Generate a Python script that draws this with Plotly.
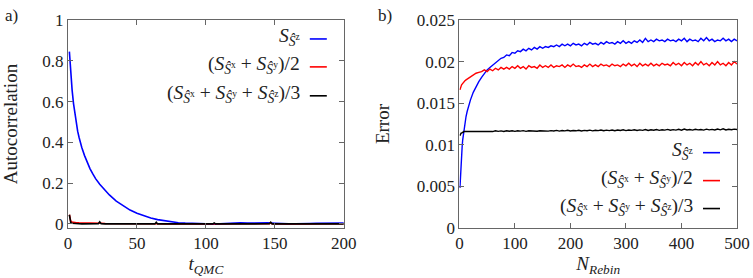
import plotly.graph_objects as go

# ---------------- Panel a) autocorrelation ----------------
t_sz = [1, 2, 3, 4, 5, 6, 7, 8, 9, 10, 12, 14, 16, 18, 20, 23, 26, 30, 35, 40,
        45, 50, 55, 60, 65, 70, 75, 80, 85, 90, 95, 100, 105, 110, 115, 120,
        125, 130, 135, 140, 145, 150, 155, 160, 165, 170, 175, 180, 185, 190,
        195, 200]
ac_sz = [0.845, 0.74, 0.655, 0.59, 0.535, 0.49, 0.455, 0.425, 0.398, 0.375,
         0.335, 0.30, 0.27, 0.245, 0.222, 0.195, 0.17, 0.142, 0.112, 0.088,
         0.068, 0.052, 0.039, 0.029, 0.021, 0.015, 0.010, 0.006, 0.004, 0.002,
         0.000, -0.002, -0.001, 0.000, 0.002, 0.004, 0.005, 0.004, 0.005, 0.004,
         0.005, 0.003, 0.001, 0.000, 0.001, 0.000, 0.002, 0.003, 0.004, 0.003,
         0.004, 0.004]

t_small = [1, 2, 3, 4, 5, 6, 8, 10, 13, 16, 19, 22, 23, 24, 27, 30, 35, 40, 45,
           50, 55, 60, 63, 64, 65, 70, 75, 80, 85, 90, 95, 100, 105, 106, 107,
           110, 115, 120, 125, 130, 135, 140, 145, 146, 147, 148, 150, 155, 160,
           165, 170, 175, 180, 185, 190, 195, 200]
ac_sxy = [0.045, 0.014, 0.009, 0.007, 0.006, 0.006, 0.005, 0.005, 0.004, 0.004,
          0.003, 0.003, 0.006, 0.003, 0.002, 0.002, 0.002, 0.001, 0.002, 0.001,
          0.001, 0.001, 0.001, 0.004, 0.001, 0.000, 0.001, 0.000, 0.001, 0.000,
          0.000, 0.000, 0.001, 0.003, 0.001, 0.000, 0.001, 0.000, 0.000, 0.001,
          0.000, 0.001, 0.000, 0.001, 0.004, 0.001, 0.000, 0.001, 0.000, 0.000,
          0.001, 0.000, 0.000, 0.001, 0.000, 0.000, 0.001]
ac_sxyz = [0.045, 0.006, 0.003, 0.002, 0.001, 0.001, 0.001, 0.000, 0.001, 0.000,
           0.001, 0.001, 0.010, 0.001, 0.000, 0.001, 0.000, 0.001, 0.000, 0.000,
           0.001, 0.000, 0.000, 0.008, 0.000, 0.000, 0.001, 0.000, 0.000, 0.001,
           0.000, 0.000, 0.000, 0.005, 0.000, 0.001, 0.000, 0.000, 0.001, 0.000,
           0.000, 0.001, 0.000, 0.001, 0.008, 0.000, 0.000, 0.001, 0.000, 0.000,
           0.001, 0.000, 0.000, 0.000, 0.001, 0.000, 0.000]

# ---------------- Panel b) error vs rebinning ----------------
n_rebin = [1, 2, 3, 4, 5, 6, 7, 8, 10, 12, 14, 16, 18, 20] + list(range(25, 501, 5))

err_sz = [0.0048, 0.0065, 0.0078, 0.0089, 0.0098, 0.0106, 0.0112, 0.0117, 0.0127,
          0.0134, 0.0140, 0.0145, 0.0150, 0.0154,
          0.0163, 0.0170, 0.0176, 0.0181, 0.0186, 0.0190, 0.0193, 0.0196, 0.0199,
          0.0201, 0.0204, 0.0205, 0.0208, 0.0207, 0.0211, 0.0210, 0.0213, 0.0212,
          0.0215, 0.0213, 0.0216, 0.0214, 0.0217, 0.0215, 0.0218, 0.0216, 0.0218,
          0.0217, 0.0219, 0.0218, 0.0220, 0.0218, 0.0221, 0.0219, 0.0221, 0.0219,
          0.0222, 0.0220, 0.0221, 0.0219, 0.0222, 0.0220, 0.0223, 0.0221, 0.0222,
          0.0220, 0.0223, 0.0221, 0.0224, 0.0222, 0.0223, 0.0221, 0.0224, 0.0222,
          0.0225, 0.0222, 0.0224, 0.0222, 0.0225, 0.0223, 0.0226, 0.0223, 0.0228,
          0.0224, 0.0226, 0.0224, 0.0227, 0.0225, 0.0226, 0.0224, 0.0227, 0.0225,
          0.0226, 0.0224, 0.0227, 0.0225, 0.0228, 0.0224, 0.0227, 0.0225, 0.0226,
          0.0224, 0.0228, 0.0225, 0.0229, 0.0225, 0.0227, 0.0224, 0.0226, 0.0225,
          0.0228, 0.0225, 0.0227, 0.0224, 0.0227, 0.0225]

err_sxy = [0.0166, 0.0169, 0.0171, 0.0172, 0.0173, 0.0174, 0.0175, 0.0176, 0.0177,
           0.0178, 0.0179, 0.0180, 0.0181, 0.0182,
           0.0184, 0.0186, 0.0187, 0.0188, 0.0190, 0.0188, 0.0191, 0.0189, 0.0192,
           0.0190, 0.0193, 0.0191, 0.0193, 0.0191, 0.0194, 0.0192, 0.0195, 0.0192,
           0.0194, 0.0191, 0.0195, 0.0193, 0.0194, 0.0192, 0.0196, 0.0193, 0.0195,
           0.0193, 0.0196, 0.0193, 0.0195, 0.0194, 0.0196, 0.0193, 0.0196, 0.0194,
           0.0197, 0.0194, 0.0195, 0.0193, 0.0196, 0.0194, 0.0197, 0.0194, 0.0196,
           0.0194, 0.0197, 0.0195, 0.0196, 0.0194, 0.0197, 0.0195, 0.0196, 0.0194,
           0.0197, 0.0195, 0.0198, 0.0195, 0.0197, 0.0194, 0.0198, 0.0195, 0.0197,
           0.0195, 0.0198, 0.0195, 0.0197, 0.0195, 0.0198, 0.0196, 0.0197, 0.0195,
           0.0199, 0.0196, 0.0198, 0.0195, 0.0199, 0.0196, 0.0198, 0.0195, 0.0199,
           0.0196, 0.0200, 0.0196, 0.0198, 0.0195, 0.0199, 0.0196, 0.0200, 0.0196,
           0.0198, 0.0195, 0.0199, 0.0196, 0.0200, 0.0197]

err_sxyz = [0.0111, 0.0113, 0.0114, 0.0114, 0.0115, 0.0115, 0.0115, 0.0116, 0.0116,
            0.0116, 0.0116, 0.0116, 0.0116, 0.0116,
            0.01162, 0.01158, 0.01165, 0.01160, 0.01167, 0.01161, 0.01166, 0.01159,
            0.01168, 0.01162, 0.01167, 0.01160, 0.01169, 0.01163, 0.01168, 0.01161,
            0.01169, 0.01164, 0.01170, 0.01162, 0.01168, 0.01165, 0.01171, 0.01163,
            0.01169, 0.01166, 0.01172, 0.01164, 0.01170, 0.01166, 0.01173, 0.01165,
            0.01171, 0.01167, 0.01174, 0.01166, 0.01172, 0.01168, 0.01175, 0.01167,
            0.01173, 0.01169, 0.01176, 0.01168, 0.01174, 0.01170, 0.01177, 0.01169,
            0.01176, 0.01171, 0.01178, 0.01170, 0.01177, 0.01172, 0.01180, 0.01171,
            0.01178, 0.01173, 0.01181, 0.01172, 0.01179, 0.01174, 0.01183, 0.01173,
            0.01180, 0.01175, 0.01184, 0.01174, 0.01181, 0.01176, 0.01185, 0.01175,
            0.01182, 0.01177, 0.01186, 0.01176, 0.01190, 0.01178, 0.01184, 0.01177,
            0.01187, 0.01179, 0.01184, 0.01177, 0.01188, 0.01180, 0.01185, 0.01178,
            0.01189, 0.01180, 0.01192, 0.01179, 0.01186, 0.01181, 0.01188, 0.01184]

a_xticks = [0, 50, 100, 150, 200]
a_yticks = [0, 0.2, 0.4, 0.6, 0.8, 1]
a_ytext = ["0", "0.2", "0.4", "0.6", "0.8", "1"]
b_xticks = [0, 100, 200, 300, 400, 500]
b_yticks = [0, 0.005, 0.01, 0.015, 0.02, 0.025]
b_ytext = ["0", "0.005", "0.01", "0.015", "0.02", "0.025"]

labels = [
    "<i>S</i><sub><i>Ŝ</i><sup>z</sup></sub>",
    "(<i>S</i><sub><i>Ŝ</i><sup>x</sup></sub> + <i>S</i><sub><i>Ŝ</i><sup>y</sup></sub>)/2",
    "(<i>S</i><sub><i>Ŝ</i><sup>x</sup></sub> + <i>S</i><sub><i>Ŝ</i><sup>y</sup></sub>"
    " + <i>S</i><sub><i>Ŝ</i><sup>z</sup></sub>)/3",
]
colors = ["#0000ff", "#ff0000", "#000000"]

FONT = "Liberation Serif, Times New Roman, serif"
TXT = "#222222"
W, H = 753, 278

# plot-area frames in pixels
A_X0, A_X1 = 68.3, 344.0
B_X0, B_X1 = 459.5, 737.0
Y_TOP, Y_BOT = 20.0, 228.5

ML = A_X0
MR = W - B_X1
MT = Y_TOP
MB = H - Y_BOT
pw = W - ML - MR
ph = H - MT - MB


def px(x):
    return (x - ML) / pw


def py(y):
    return (H - MB - y) / ph


fig = go.Figure()
# panel a
fig.add_trace(go.Scatter(x=t_sz, y=ac_sz, mode="lines", line=dict(color=colors[0], width=1.6),
                         name="S_Sz", showlegend=False, xaxis="x", yaxis="y"))
fig.add_trace(go.Scatter(x=t_small, y=ac_sxy, mode="lines", line=dict(color=colors[1], width=1.6),
                         name="(S_Sx+S_Sy)/2", showlegend=False, xaxis="x", yaxis="y"))
fig.add_trace(go.Scatter(x=t_small, y=ac_sxyz, mode="lines", line=dict(color=colors[2], width=1.6),
                         name="(S_Sx+S_Sy+S_Sz)/3", showlegend=False, xaxis="x", yaxis="y"))
# panel b
fig.add_trace(go.Scatter(x=n_rebin, y=err_sz, mode="lines", line=dict(color=colors[0], width=1.4),
                         name="S_Sz", showlegend=False, xaxis="x2", yaxis="y2"))
fig.add_trace(go.Scatter(x=n_rebin, y=err_sxy, mode="lines", line=dict(color=colors[1], width=1.4),
                         name="(S_Sx+S_Sy)/2", showlegend=False, xaxis="x2", yaxis="y2"))
fig.add_trace(go.Scatter(x=n_rebin, y=err_sxyz, mode="lines", line=dict(color=colors[2], width=1.4),
                         name="(S_Sx+S_Sy+S_Sz)/3", showlegend=False, xaxis="x2", yaxis="y2"))

axis_common = dict(showline=True, mirror="ticks", linecolor="#666666", linewidth=1,
                   ticks="inside", ticklen=5, tickcolor="#666666", showgrid=False,
                   zeroline=False, automargin=False,
                   tickfont=dict(family=FONT, size=17, color=TXT))

fig.update_layout(
    template="none",
    width=W, height=H,
    margin=dict(l=ML, r=MR, t=MT, b=MB, autoexpand=False),
    paper_bgcolor="white", plot_bgcolor="white",
    font=dict(family=FONT, size=17, color=TXT),
    xaxis=dict(domain=[px(A_X0), px(A_X1)], range=[0, 200], tickvals=a_xticks, anchor="y",
               title=dict(text="<i>t</i><sub><i>QMC</i></sub>", standoff=0,
                          font=dict(family=FONT, size=19, color=TXT)), **axis_common),
    yaxis=dict(domain=[0, 1], range=[-0.02, 1], tickvals=a_yticks, ticktext=a_ytext, anchor="x",
               title=dict(text="Autocorrelation", standoff=20,
                          font=dict(family=FONT, size=19, color=TXT)), **axis_common),
    xaxis2=dict(domain=[px(B_X0), px(B_X1)], range=[0, 500], tickvals=b_xticks, anchor="y2",
                title=dict(text="<i>N</i><sub><i>Rebin</i></sub>", standoff=0,
                           font=dict(family=FONT, size=19, color=TXT)), **axis_common),
    yaxis2=dict(domain=[0, 1], range=[0, 0.025], tickvals=b_yticks, ticktext=b_ytext, anchor="x2",
                title=dict(text="Error", standoff=22,
                           font=dict(family=FONT, size=19, color=TXT)), **axis_common),
)

# legend entries (gnuplot style: right-aligned text, line sample to the right)
ann = []
shapes = []
leg_a = dict(text_right=302, x0=310, x1=327, rows=[39, 67, 96])
leg_b = dict(text_right=695, x0=703, x1=720, rows=[153, 181, 209])
for leg in (leg_a, leg_b):
    for lab, col, yr in zip(labels, colors, leg["rows"]):
        ann.append(dict(xref="paper", yref="paper", x=px(leg["text_right"]),
                        y=py(yr - 2), xanchor="right", yanchor="middle",
                        text=lab, showarrow=False,
                        font=dict(family=FONT, size=19.5, color=TXT)))
        shapes.append(dict(type="line", xref="paper", yref="paper",
                           x0=px(leg["x0"]), x1=px(leg["x1"]),
                           y0=py(yr), y1=py(yr),
                           line=dict(color=col, width=1.6)))

ann.append(dict(xref="paper", yref="paper", x=px(3), y=py(15), xanchor="left",
                yanchor="middle", text="a)", showarrow=False,
                font=dict(family=FONT, size=17, color=TXT)))
ann.append(dict(xref="paper", yref="paper", x=px(376), y=py(15), xanchor="left",
                yanchor="middle", text="b)", showarrow=False,
                font=dict(family=FONT, size=17, color=TXT)))

fig.update_layout(annotations=ann, shapes=shapes)
# remove the default 8px page margin so the figure sits at the window origin
fig.write_html("out.html",
               config={"displayModeBar": False, "staticPlot": True},
               post_script="document.body.style.margin='0';document.body.style.padding='0';")
